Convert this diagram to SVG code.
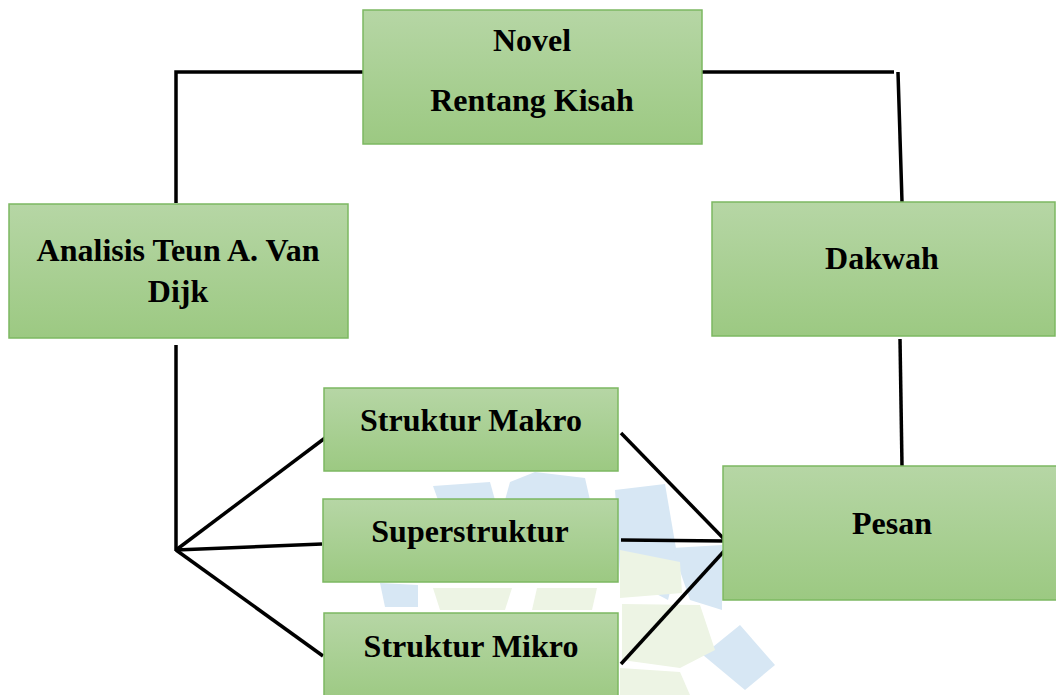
<svg xmlns="http://www.w3.org/2000/svg" width="1056" height="695" viewBox="0 0 1056 695">
<defs>
<linearGradient id="g" x1="0" y1="0" x2="0" y2="1">
<stop offset="0" stop-color="#b6d6a5"/>
<stop offset="1" stop-color="#9cc982"/>
</linearGradient>
</defs>
<style>
.box{fill:url(#g);stroke:#7cb861;stroke-width:1.5}
.t{font-family:"Liberation Serif","Times New Roman",serif;font-weight:bold;font-size:32px;fill:#000;text-anchor:middle}
.c{stroke:#000;stroke-width:3.5;fill:none;stroke-linecap:butt}
.wb{fill:#d7e7f4}
.wg{fill:#edf4e4}
</style>
<rect width="1056" height="695" fill="#fff"/>
<g id="watermark">
<polygon class="wb" points="433,486 490,482 495,500 438,500"/>
<polygon class="wb" points="510,482 535,472 585,478 590,500 505,500"/>
<polygon class="wb" points="615,490 665,484 678,560 668,600 620,575"/>
<polygon class="wb" points="672,548 722,545 722,610 690,600"/>
<polygon class="wb" points="703,655 740,625 775,665 745,690"/>
<polygon class="wb" points="380,583 418,585 418,607 385,607"/>
<polygon class="wg" points="620,550 680,562 682,593 620,598"/>
<polygon class="wg" points="433,588 512,588 505,610 440,610"/>
<polygon class="wg" points="537,588 597,588 592,610 532,610"/>
<polygon class="wg" points="622,604 700,605 715,650 680,668 622,660"/>
<polygon class="wg" points="620,668 680,672 690,695 620,695"/>
</g>
<g id="connectors">
<polyline class="c" points="363,72 176,72 176,203"/>
<line class="c" x1="176" y1="345" x2="176" y2="551"/>
<line class="c" x1="176" y1="550" x2="329" y2="435"/>
<line class="c" x1="176" y1="550" x2="322" y2="544"/>
<line class="c" x1="176" y1="550" x2="323" y2="656"/>
<line class="c" x1="702" y1="72" x2="894" y2="72"/>
<line class="c" x1="898" y1="72" x2="902" y2="202"/>
<line class="c" x1="900" y1="339" x2="902" y2="466"/>
<line class="c" x1="621" y1="433" x2="726" y2="541"/>
<line class="c" x1="621" y1="540" x2="726" y2="541"/>
<line class="c" x1="621" y1="664" x2="726" y2="549"/>
</g>
<g id="novel">
<rect class="box" x="363" y="10" width="339" height="134"/>
<text class="t" x="532" y="51">Novel</text>
<text class="t" x="532" y="111">Rentang Kisah</text>
</g>
<g id="analisis">
<rect class="box" x="9" y="204" width="339" height="134"/>
<text class="t" x="178" y="261">Analisis Teun A. Van</text>
<text class="t" x="178" y="302">Dijk</text>
</g>
<g id="dakwah">
<rect class="box" x="712" y="202" width="343" height="134"/>
<text class="t" x="882" y="269">Dakwah</text>
</g>
<g id="pesan">
<rect class="box" x="723" y="466" width="340" height="134"/>
<text class="t" x="892" y="534">Pesan</text>
</g>
<g id="makro">
<rect class="box" x="324" y="388" width="294" height="83"/>
<text class="t" x="471" y="431">Struktur Makro</text>
</g>
<g id="superstruktur">
<rect class="box" x="323" y="499" width="295" height="83"/>
<text class="t" x="470" y="542">Superstruktur</text>
</g>
<g id="mikro">
<rect class="box" x="324" y="613" width="294" height="90"/>
<text class="t" x="471" y="657">Struktur Mikro</text>
</g>
</svg>
